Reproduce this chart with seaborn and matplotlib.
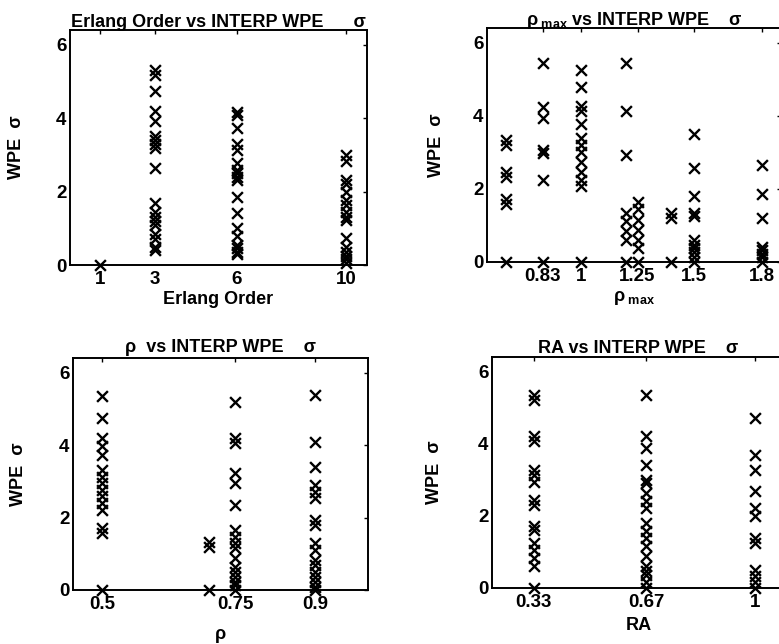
import matplotlib
matplotlib.use("Agg")
import matplotlib.pyplot as plt
import seaborn as sns
import pandas as pd
import numpy as np

# ---------------- data ----------------
erlang_orders = [1, 3, 6, 10]
wpe_erlang_1 = [0.0]
wpe_erlang_3 = [5.32, 5.18, 4.73, 4.2, 3.93, 3.5, 3.4, 3.3, 3.18, 2.64, 1.68, 1.45, 1.3, 1.2, 1.1, 0.85, 0.7, 0.5, 0.42]
wpe_erlang_6 = [4.18, 4.09, 3.73, 3.3, 3.14, 2.77, 2.6, 2.5, 2.4, 2.32, 1.86, 1.41, 1.0, 0.8, 0.55, 0.45, 0.36, 0.3]
wpe_erlang_10 = [3.0, 2.82, 2.32, 2.2, 2.0, 1.77, 1.64, 1.45, 1.3, 1.23, 0.73, 0.5, 0.36, 0.25, 0.15, 0.05]

rho_max_values = [0.67, 0.83, 1.0, 1.2, 1.25, 1.4, 1.5, 1.8]
rho_max_ticks = [0.83, 1.0, 1.25, 1.5, 1.8]
rho_max_ticklabels = ["0.83", "1", "1.25", "1.5", "1.8"]
wpe_rhomax_067 = [3.35, 3.2, 2.47, 2.33, 1.72, 1.58, 0.0]
wpe_rhomax_083 = [5.44, 4.23, 3.95, 3.07, 2.98, 2.23, 0.0]
wpe_rhomax_100 = [5.26, 4.79, 4.28, 4.14, 3.77, 3.4, 3.21, 3.02, 2.74, 2.47, 2.23, 2.09, 0.0]
wpe_rhomax_120 = [5.44, 4.14, 2.93, 1.35, 1.12, 0.84, 0.6, 0.0]
wpe_rhomax_125 = [1.63, 1.44, 1.16, 0.88, 0.6, 0.37, 0.0]
wpe_rhomax_140 = [1.35, 1.21, 0.0]
wpe_rhomax_150 = [3.49, 2.56, 1.81, 1.35, 1.26, 0.6, 0.47, 0.37, 0.28, 0.14, 0.0]
wpe_rhomax_180 = [2.65, 1.86, 1.21, 0.42, 0.33, 0.23, 0.14, 0.0]

rho_values = [0.5, 0.70, 0.75, 0.9]
rho_ticks = [0.5, 0.75, 0.9]
rho_ticklabels = ["0.5", "0.75", "0.9"]
wpe_rho_050 = [5.34, 4.74, 4.19, 3.96, 3.73, 3.31, 3.13, 2.94, 2.76, 2.58, 2.39, 2.21, 1.70, 1.56, 0.0]
wpe_rho_070 = [1.33, 1.2, 0.0]
wpe_rho_075 = [5.2, 4.19, 4.05, 3.22, 2.94, 2.35, 1.66, 1.47, 1.29, 1.15, 0.87, 0.64, 0.5, 0.37, 0.23, 0.14, 0.0]
wpe_rho_090 = [5.38, 4.09, 3.4, 2.9, 2.71, 2.53, 1.93, 1.79, 1.29, 1.1, 0.83, 0.69, 0.5, 0.37, 0.23, 0.09, 0.0]

ra_values = [0.33, 0.67, 1.0]
ra_ticklabels = ["0.33", "0.67", "1"]
wpe_ra_033 = [5.36, 5.22, 4.2, 4.06, 3.28, 3.14, 2.95, 2.45, 2.31, 1.71, 1.62, 1.25, 1.06, 0.83, 0.6, 0.0]
wpe_ra_067 = [5.36, 4.2, 3.88, 3.42, 3.0, 2.91, 2.63, 2.4, 2.22, 1.8, 1.57, 1.39, 1.15, 0.88, 0.6, 0.46, 0.37, 0.18, 0.0]
wpe_ra_100 = [4.71, 3.69, 3.28, 2.68, 2.22, 1.99, 1.39, 1.25, 0.51, 0.32, 0.18, 0.0]

# ---------------- style ----------------
sns.set_theme(style="white")
plt.rcParams.update({
    "font.family": ["Liberation Sans", "DejaVu Sans"],
    "font.weight": "bold",
    "axes.labelweight": "bold",
    "axes.titleweight": "bold",
    "mathtext.fontset": "custom",
    "mathtext.rm": "Liberation Sans:bold",
    "mathtext.it": "Liberation Sans:bold",
    "mathtext.bf": "Liberation Sans:bold",
    "axes.edgecolor": "black",
    "axes.linewidth": 1.4,
    "xtick.color": "black",
    "ytick.color": "black",
    "text.color": "black",
    "axes.labelcolor": "black",
})
FS_TICK = 13.5
FS_TEXT = 13


def long_df(xvals, groups):
    xs, ys = [], []
    for xv, g in zip(xvals, groups):
        xs.extend([xv] * len(g))
        ys.extend(g)
    return pd.DataFrame({"x": xs, "y": ys})


def draw(ax, df, xlim, xticks, xticklabels, title, xlabel, xlabel_y, ylabel_x, title_pad):
    sns.scatterplot(data=df, x="x", y="y", marker="x", color="black", s=60,
                    linewidth=1.7, ax=ax, clip_on=False, zorder=3)
    ax.set_xlim(*xlim)
    ax.set_ylim(0, 6.4)
    ax.set_yticks([0, 2, 4, 6])
    ax.set_yticklabels(["0", "2", "4", "6"])
    ax.set_xticks(xticks)
    ax.set_xticklabels(xticklabels)
    ax.tick_params(axis="x", direction="in", top=True, length=3, width=1, labelsize=FS_TICK, pad=4.5)
    ax.tick_params(axis="y", direction="in", right=True, length=3, width=1, labelsize=FS_TICK, pad=2.5)
    for lab in ax.get_xticklabels() + ax.get_yticklabels():
        lab.set_fontweight("bold")
    ax.set_title(title, fontsize=FS_TEXT, fontweight="bold", pad=title_pad)
    ax.set_xlabel(xlabel, fontsize=FS_TEXT, fontweight="bold")
    ax.set_ylabel("WPE  σ", fontsize=FS_TEXT, fontweight="bold")
    ax.xaxis.set_label_coords(0.5, xlabel_y)
    ax.yaxis.set_label_coords(ylabel_x, 0.5)
    for sp in ax.spines.values():
        sp.set_visible(True)
        sp.set_color("black")


fig = plt.figure(figsize=(7.79, 6.44), dpi=100)
W, H = 779.0, 644.0


def add_axes(left, right, top, bottom):
    return fig.add_axes([left / W, 1 - bottom / H, (right - left) / W, (bottom - top) / H])


ax1 = add_axes(70, 367, 30, 265)
ax2 = add_axes(487, 781, 28, 262)
ax3 = add_axes(73, 368, 358, 590)
ax4 = add_axes(492, 785, 357, 588)

draw(ax1, long_df(erlang_orders, [wpe_erlang_1, wpe_erlang_3, wpe_erlang_6, wpe_erlang_10]),
     (-0.1, 10.75), erlang_orders, [str(v) for v in erlang_orders],
     "Erlang Order vs INTERP WPE      σ", "Erlang Order", -0.112, -0.152, 2)

draw(ax2, long_df(rho_max_values, [wpe_rhomax_067, wpe_rhomax_083, wpe_rhomax_100, wpe_rhomax_120,
                                   wpe_rhomax_125, wpe_rhomax_140, wpe_rhomax_150, wpe_rhomax_180]),
     (0.584, 1.885), rho_max_ticks, rho_max_ticklabels,
     r"$\rho_{\ \mathrm{max}}$ vs INTERP WPE    σ", r"$\rho_{\ \mathrm{max}}$", -0.115, -0.143, 2)

draw(ax3, long_df(rho_values, [wpe_rho_050, wpe_rho_070, wpe_rho_075, wpe_rho_090]),
     (0.445, 1.0), rho_ticks, rho_ticklabels,
     "ρ  vs INTERP WPE    σ", "ρ", -0.155, -0.156, 4)

draw(ax4, long_df(ra_values, [wpe_ra_033, wpe_ra_067, wpe_ra_100]),
     (0.204, 1.09), ra_values, ra_ticklabels,
     "RA vs INTERP WPE    σ", "RA", -0.125, -0.167, 3)

fig.savefig("out.png", dpi=100)
